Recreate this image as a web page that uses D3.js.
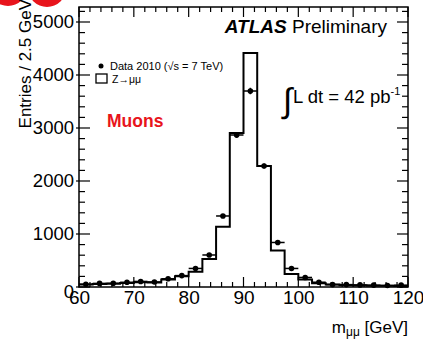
<!DOCTYPE html>
<html><head><meta charset="utf-8">
<script src="https://cdn.jsdelivr.net/npm/d3@7"></script>
<style>
body{margin:0;background:#fff}
svg{display:block}
text{font-family:"Liberation Sans",Arial,Helvetica,sans-serif;fill:#000}
</style>
</head><body>
<svg id="chart" width="423" height="339"></svg>
<script>
// Dimuon invariant mass, 2.5 GeV bins from 60 to 120 GeV
const binLow = [60,62.5,65,67.5,70,72.5,75,77.5,80,82.5,85,87.5,90,92.5,95,97.5,100,102.5,105,107.5,110,112.5,115,117.5];
const binWidth = 2.5;
const mcZmumu = [45,55,60,75,90,85,140,205,290,528,1138,2906,4415,2283,690,245,140,70,45,35,30,25,25,20];
const data2010 = [51,68,70,89,105,95,155,215,350,604,1340,2868,3698,2283,840,350,180,90,45,45,40,35,28,35];
const xTicks = [60,70,80,90,100,110,120];
const yTicks = [0,1000,2000,3000,4000,5000];

const svg = d3.select("#chart");
const X0 = 79, X1 = 408, Y0 = 287, Y1 = 7;
const x = d3.scaleLinear().domain([60,120]).range([X0,X1]);
const y = d3.scaleLinear().domain([0,5283]).range([Y0,Y1]);

// decorative red discs in the top-left corner
svg.append("circle").attr("cx",8).attr("cy",-13).attr("r",19).attr("fill","#e8141c");
svg.append("circle").attr("cx",47).attr("cy",-12).attr("r",19).attr("fill","#e8141c");

// histogram (simulation) as a step line
const steps = binLow.map((b,i)=>[b, mcZmumu[i]]);
steps.push([120, mcZmumu[mcZmumu.length-1]]);
const stepLine = d3.line().x(d=>x(d[0])).y(d=>y(d[1])).curve(d3.curveStepAfter);
svg.append("path").attr("d", stepLine(steps))
  .attr("fill","none").attr("stroke","#000").attr("stroke-width",2);

// data points with error bars
const pts = svg.append("g");
data2010.forEach((v,i)=>{
  const cx = x(binLow[i] + binWidth/2);
  const err = Math.sqrt(v);
  pts.append("line").attr("x1",x(binLow[i])).attr("x2",x(binLow[i]+binWidth))
    .attr("y1",y(v)).attr("y2",y(v)).attr("stroke","#000").attr("stroke-width",1.5);
  pts.append("line").attr("x1",cx).attr("x2",cx)
    .attr("y1",y(v-err)).attr("y2",y(v+err)).attr("stroke","#000").attr("stroke-width",1.5);
  pts.append("circle").attr("cx",cx).attr("cy",y(v)).attr("r",2.8).attr("fill","#000");
});

// frame
svg.append("rect").attr("x",X0).attr("y",Y1).attr("width",X1-X0).attr("height",Y0-Y1)
  .attr("fill","none").attr("stroke","#000").attr("stroke-width",1.5);

// ticks
const tk = svg.append("g").attr("stroke","#000").attr("stroke-width",1.2);
const xMinor = d3.range(60,120.01,2);
xMinor.forEach(v=>{
  const len = (v % 10 === 0) ? 10 : 5;
  tk.append("line").attr("x1",x(v)).attr("x2",x(v)).attr("y1",Y0).attr("y2",Y0-len);
  tk.append("line").attr("x1",x(v)).attr("x2",x(v)).attr("y1",Y1).attr("y2",Y1+len);
});
const yMinor = d3.range(0,5283,200);
yMinor.forEach(v=>{
  const major = v % 1000 === 0;
  const len = major ? 11 : 6;
  tk.append("line").attr("x1",major?X0-3:X0).attr("x2",X0+len).attr("y1",y(v)).attr("y2",y(v));
  tk.append("line").attr("x1",X1).attr("x2",X1-len).attr("y1",y(v)).attr("y2",y(v));
});

// tick labels via d3 axes
const yAxis = d3.axisLeft(y).tickValues(yTicks).tickFormat(d3.format("d")).tickSize(0).tickPadding(5);
const ga = svg.append("g").attr("transform",`translate(${X0},0)`).call(yAxis);
ga.select(".domain").remove();
ga.selectAll("text").attr("font-size",18.5).attr("font-family","Liberation Sans, Arial, sans-serif").attr("fill","#000");
ga.selectAll(".tick").filter(d=>d===0).select("text").attr("dy","0.55em");

const xAxis = d3.axisBottom(x).tickValues(xTicks).tickFormat(d3.format("d")).tickSize(0).tickPadding(3);
const gb = svg.append("g").attr("transform",`translate(0,${Y0})`).call(xAxis);
gb.select(".domain").remove();
gb.selectAll("text").attr("font-size",19).attr("font-family","Liberation Sans, Arial, sans-serif").attr("fill","#000");

// axis titles
svg.append("text").attr("transform","translate(31,-1) rotate(-90)")
  .attr("text-anchor","end").attr("font-size",17).text("Entries / 2.5 GeV");

const xt = svg.append("text").attr("x",408).attr("y",333).attr("text-anchor","end").attr("font-size",17);
xt.append("tspan").text("m");
xt.append("tspan").attr("font-size",12).attr("dy",3).text("μμ");
xt.append("tspan").attr("dy",-3).text(" [GeV]");

// experiment label
const at = svg.append("text").attr("x",387).attr("y",33).attr("text-anchor","end").attr("font-size",19);
at.append("tspan").attr("font-weight","bold").attr("font-style","italic").text("ATLAS");
at.append("tspan").text(" Preliminary");

// luminosity
svg.append("text").attr("x",283).attr("y",112).attr("font-size",34)
  .attr("font-family","Liberation Serif, serif").text("∫");
const lum = svg.append("text").attr("x",293).attr("y",103).attr("font-size",18.5);
lum.append("tspan").text("L dt = 42 pb");
lum.append("tspan").attr("font-size",11).attr("dy",-8).text("-1");

// channel label
svg.append("text").attr("x",107).attr("y",127).attr("font-size",17.5).attr("font-weight","bold")
  .attr("fill","#e8141c").style("fill","#e8141c").text("Muons");

// legend
svg.append("circle").attr("cx",101).attr("cy",66).attr("r",2.5).attr("fill","#000");
svg.append("text").attr("x",110).attr("y",70).attr("font-size",11).text("Data 2010 (√s = 7 TeV)");
svg.append("rect").attr("x",96).attr("y",74).attr("width",11).attr("height",9)
  .attr("fill","none").attr("stroke","#000").attr("stroke-width",1.3);
svg.append("text").attr("x",112).attr("y",83).attr("font-size",10.5).text("Z→μμ");
</script>
</body></html>
